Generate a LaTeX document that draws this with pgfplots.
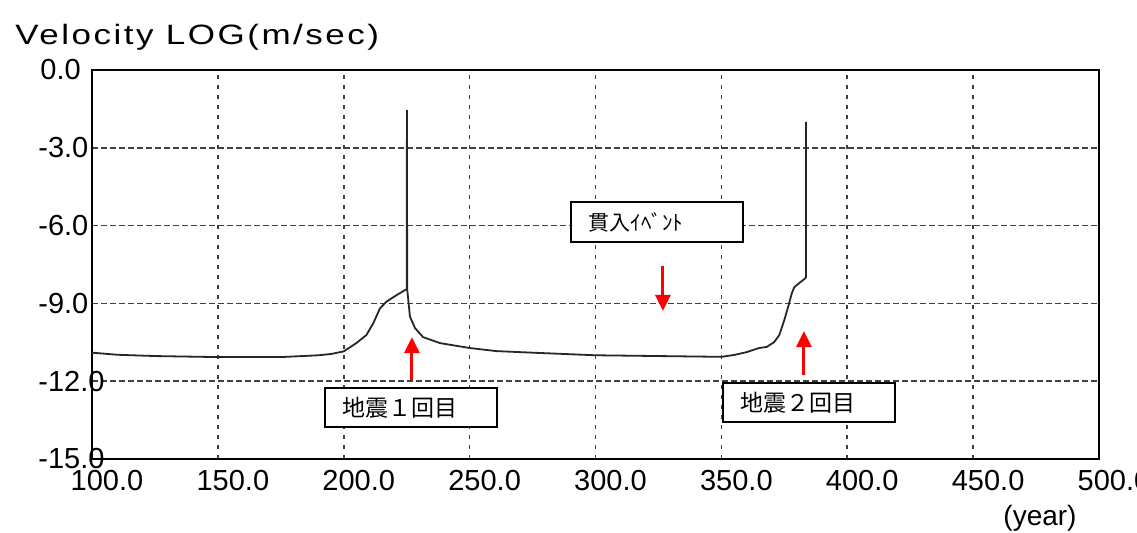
\documentclass[border=0pt]{standalone}
\usepackage{pgfplots}
\pgfplotsset{compat=1.18}
\usepackage{fontspec}
\setmainfont{Liberation Sans}
\newfontfamily\widesans[FakeStretch=1.25,LetterSpace=9]{Liberation Sans}
\newfontfamily\cjk{Noto Sans CJK JP}
\usetikzlibrary{arrows.meta}
\pgfplotstableread{
x y
100 -10.90
110 -10.98
125 -11.03
150 -11.07
175 -11.07
190 -11.00
195 -10.95
200 -10.85
205 -10.53
209 -10.22
211.7 -9.77
214.4 -9.19
217 -8.93
221 -8.68
225 -8.45
225.1 -1.54
225.2 -8.45
226.3 -9.51
228.3 -9.95
231.5 -10.30
238.2 -10.53
250 -10.72
260.7 -10.84
275 -10.90
300 -11.00
325 -11.03
350 -11.06
355 -10.99
360 -10.88
365 -10.72
368 -10.68
371 -10.49
373 -10.22
375 -9.64
376.5 -9.14
378 -8.60
379 -8.37
381 -8.21
383 -8.06
383.6 -8.00
383.6 -2.00
}\velo
\begin{document}
\begin{tikzpicture}
\useasboundingbox (0,0) rectangle (568.5pt,266pt);
\begin{axis}[
  at={(46pt,36.5pt)}, anchor=south west,
  scale only axis, width=503.5pt, height=194.5pt,
  xmin=100, xmax=500, ymin=-15, ymax=0,
  xtick={100,150,...,500},
  xticklabels={100.0,150.0,200.0,250.0,300.0,350.0,400.0,450.0,500.0},
  ytick={-15,-12,-9,-6,-3,0},
  yticklabels={-15.0,-12.0,-9.0,-6.0,-3.0,\hspace*{1pt}0.0},
  major tick length=0pt,
  tick label style={font=\fontsize{14.5}{16}\selectfont},
  xticklabel style={xshift=7.5pt, yshift=-2pt},
  yticklabel style={anchor=west, inner sep=0pt, xshift=-27pt},
  grid=major,
  x grid style={black!75, line width=0.8pt, dash pattern=on 2pt off 3pt},
  y grid style={black!75, line width=0.8pt, dash pattern=on 3pt off 1.5pt},
  axis line style={black, line width=0.8pt},
  clip=false,
]
\addplot[black!85, line width=0.9pt] table[x=x,y=y] {\velo};
% arrows
\draw[red, line width=1.5pt, -{Triangle[width=7.5pt,length=8pt]}] (axis cs:227.1,-11.96) -- (axis cs:227.1,-10.30);
\draw[red, line width=1.5pt, -{Triangle[width=7.5pt,length=8pt]}] (axis cs:382.8,-11.76) -- (axis cs:382.8,-10.07);
\draw[red, line width=1.5pt, -{Triangle[width=7.5pt,length=8pt]}] (axis cs:326.8,-7.56) -- (axis cs:326.8,-9.29);
% boxes
\node[draw, fill=white, line width=0.75pt, inner xsep=9pt, text width=68pt, minimum height=19.5pt, align=left, font=\cjk\fontsize{11.5}{13}\selectfont] at (axis cs:226.7,-13.02) {地震１回目};
\node[draw, fill=white, line width=0.75pt, inner xsep=9pt, text width=68pt, minimum height=19.5pt, align=left, font=\cjk\fontsize{11.5}{13}\selectfont] at (axis cs:384.8,-12.82) {地震２回目};
\node[draw, fill=white, line width=0.75pt, inner xsep=9pt, text width=68pt, minimum height=20pt, align=left, font=\cjk\fontsize{10.5}{12}\selectfont] at (axis cs:324.4,-5.86) {貫入ｲﾍﾞﾝﾄ};
\end{axis}
\node[anchor=base west, inner sep=0pt, font=\widesans\fontsize{14}{16}\selectfont] at (7.5pt,244pt) {Velocity LOG(m/sec)};
\node[inner sep=0pt, font=\fontsize{14}{16}\selectfont] at (520pt,7pt) {(year)};
\end{tikzpicture}
\end{document}
